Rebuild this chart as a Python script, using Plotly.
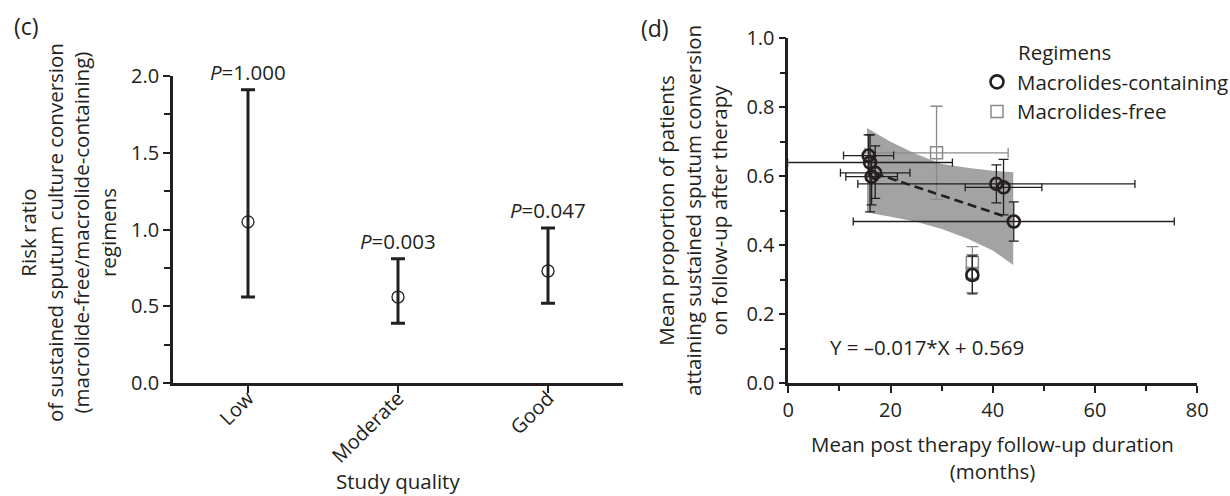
import plotly.graph_objects as go

W, H = 1230, 496
FONT = "Open Sans"
FS = 20.5
TFS = 20
INK = "#231f20"
GRAY = "#8a8a8a"


def fx(p):
    return p / W


def fy(p):
    return 1 - p / H


# ---------------- Panel (c) data ----------------
quality = ["Low", "Moderate", "Good"]
rr = [1.05, 0.56, 0.73]
rr_upper = [1.91, 0.81, 1.01]
rr_lower = [0.56, 0.39, 0.52]
p_values = ["1.000", "0.003", "0.047"]

# ---------------- Panel (d) data ----------------
mc_x = [15.7, 16.0, 17.0, 16.3, 40.7, 42.1, 44.1, 36.0]
mc_y = [0.660, 0.640, 0.610, 0.599, 0.578, 0.568, 0.469, 0.314]
mc_xerr = [4.9, 16.1, 6.8, 5.05, 27.1, 7.5, 31.4, 0.0]
mc_yerr_plus = [0.06, 0.08, 0.078, 0.06, 0.055, 0.081, 0.057, 0.055]
mc_yerr_minus = [0.06, 0.143, 0.074, 0.082, 0.055, 0.08, 0.057, 0.055]

mf_x = [29.0, 36.0, 36.0]
mf_y = [0.668, 0.350, 0.318]
mf_xerr = [14.0, 0.0, 0.0]
mf_yerr = [0.135, 0.046, 0.055]

fit_x = [16.9, 42.1]
fit_y = [0.609, 0.485]

band_x = [15.4, 20, 25, 30, 35, 40, 44]
band_upper = [0.74, 0.70, 0.665, 0.636, 0.625, 0.616, 0.612]
band_lower = [0.495, 0.483, 0.468, 0.447, 0.42, 0.385, 0.343]

equation = "Y = \u20130.017*X + 0.569"

fig = go.Figure()

# ---- panel (c) ----
xpos = list(range(len(quality)))
fig.add_trace(go.Scatter(
    x=xpos, y=rr, mode="markers",
    marker=dict(symbol="circle-open", size=12, color=INK, line=dict(width=1.3, color=INK)),
    error_y=dict(type="data", symmetric=False,
                 array=[u - v for u, v in zip(rr_upper, rr)],
                 arrayminus=[v - l for v, l in zip(rr, rr_lower)],
                 color=INK, thickness=3, width=7),
    xaxis="x", yaxis="y", showlegend=False, hoverinfo="skip"))

# ---- panel (d) ----
fig.add_trace(go.Scatter(
    x=band_x + band_x[::-1], y=band_upper + band_lower[::-1],
    fill="toself", fillcolor="#a3a3a3", line=dict(width=0), mode="lines",
    xaxis="x2", yaxis="y2", showlegend=False, hoverinfo="skip"))

fig.add_trace(go.Scatter(
    x=fit_x, y=fit_y, mode="lines",
    line=dict(color=INK, width=2.6, dash="9px,5px"),
    xaxis="x2", yaxis="y2", showlegend=False, hoverinfo="skip"))

fig.add_trace(go.Scatter(
    x=mf_x, y=mf_y, mode="markers",
    marker=dict(symbol="square-open", size=12, color=GRAY, line=dict(width=1.5, color=GRAY)),
    error_x=dict(type="data", array=mf_xerr, color=GRAY, thickness=1.3, width=5),
    error_y=dict(type="data", array=mf_yerr, color=GRAY, thickness=1.3, width=6),
    xaxis="x2", yaxis="y2", showlegend=False, hoverinfo="skip"))

fig.add_trace(go.Scatter(
    x=mc_x, y=mc_y, mode="markers",
    marker=dict(symbol="circle-open", size=12, color=INK, line=dict(width=2.6, color=INK)),
    error_x=dict(type="data", array=mc_xerr, color=INK, thickness=1.3, width=4),
    error_y=dict(type="data", symmetric=False, array=mc_yerr_plus, arrayminus=mc_yerr_minus,
                 color=INK, thickness=1.3, width=5),
    xaxis="x2", yaxis="y2", showlegend=False, hoverinfo="skip"))

# legend entries
fig.add_trace(go.Scatter(
    x=[None], y=[None], mode="markers", name="Macrolides-containing",
    marker=dict(symbol="circle-open", size=13, color=INK, line=dict(width=2.6, color=INK)),
    xaxis="x2", yaxis="y2"))
fig.add_trace(go.Scatter(
    x=[None], y=[None], mode="markers", name="Macrolides-free",
    marker=dict(symbol="square-open", size=12, color=GRAY, line=dict(width=1.5, color=GRAY)),
    xaxis="x2", yaxis="y2"))

axis_common = dict(
    showline=True, linecolor=INK, linewidth=2.6, ticks="outside", ticklen=7,
    tickwidth=2.4, tickcolor=INK, showgrid=False, zeroline=False, automargin=False,
    tickfont=dict(family=FONT, size=TFS, color=INK),
)

annotations = []
for i, p in enumerate(p_values):
    annotations.append(dict(
        x=xpos[i], y=rr_upper[i], xref="x", yref="y", showarrow=False,
        text="<i>P</i>=" + p, yanchor="middle", yshift=18,
        font=dict(family=FONT, size=FS, color=INK)))


def ann(text, x, y, size=FS, angle=0, xanchor="center"):
    annotations.append(dict(
        text=text, x=fx(x), y=fy(y), xref="paper", yref="paper", showarrow=False,
        xanchor=xanchor, yanchor="middle", textangle=angle,
        font=dict(family=FONT, size=size, color=INK)))


ann("(c)", 26, 26, size=23)
ann("(d)", 655, 28, size=23)
ann("Risk ratio<br>of sustained sputum culture conversion<br>(macrolide-free/macrolide-containing)<br>regimens",
    68, 233, angle=-90)
ann("Study quality", 398, 481)
ann("Mean proportion of patients<br>attaining sustained sputum conversion<br>on follow-up after therapy",
    693, 210, angle=-90)
ann("Mean post therapy follow-up duration<br>(months)", 992, 457)
ann(equation, 927, 347)
ann("Regimens", 1016, 52, xanchor="left")

fig.update_layout(
    width=W, height=H, margin=dict(l=0, r=0, t=0, b=0, autoexpand=False),
    paper_bgcolor="white", plot_bgcolor="white",
    font=dict(family=FONT, size=FS, color=INK),
    xaxis=dict(axis_common, domain=[fx(173), fx(623)], range=[-0.5, 2.5],
               tickvals=xpos, ticktext=quality, tickangle=-45, anchor="y",
               ticklabelstandoff=-14),
    yaxis=dict(axis_common, domain=[fy(383), fy(76)], range=[0, 2.0],
               tickvals=[0, 0.5, 1.0, 1.5, 2.0], tickformat=".1f", anchor="x",
               minor=dict(dtick=0.25, ticks="outside", ticklen=6, tickwidth=2.2, tickcolor=INK)),
    xaxis2=dict(axis_common, domain=[fx(788.3), fx(1197.3)], range=[0, 80],
                dtick=20, anchor="y2",
                minor=dict(dtick=10, ticks="outside", ticklen=5, tickwidth=2.2, tickcolor=INK)),
    yaxis2=dict(axis_common, domain=[fy(383.3), fy(38.3)], range=[0, 1.0],
                dtick=0.2, tickformat=".1f", anchor="x2",
                minor=dict(dtick=0.1, ticks="outside", ticklen=6, tickwidth=2.2, tickcolor=INK)),
    legend=dict(x=fx(977), y=fy(62), xanchor="left", yanchor="top",
                font=dict(family=FONT, size=FS, color=INK), bgcolor="rgba(0,0,0,0)",
                tracegroupgap=0, itemwidth=30),
    annotations=annotations,
)

fig.write_html("out.html")
